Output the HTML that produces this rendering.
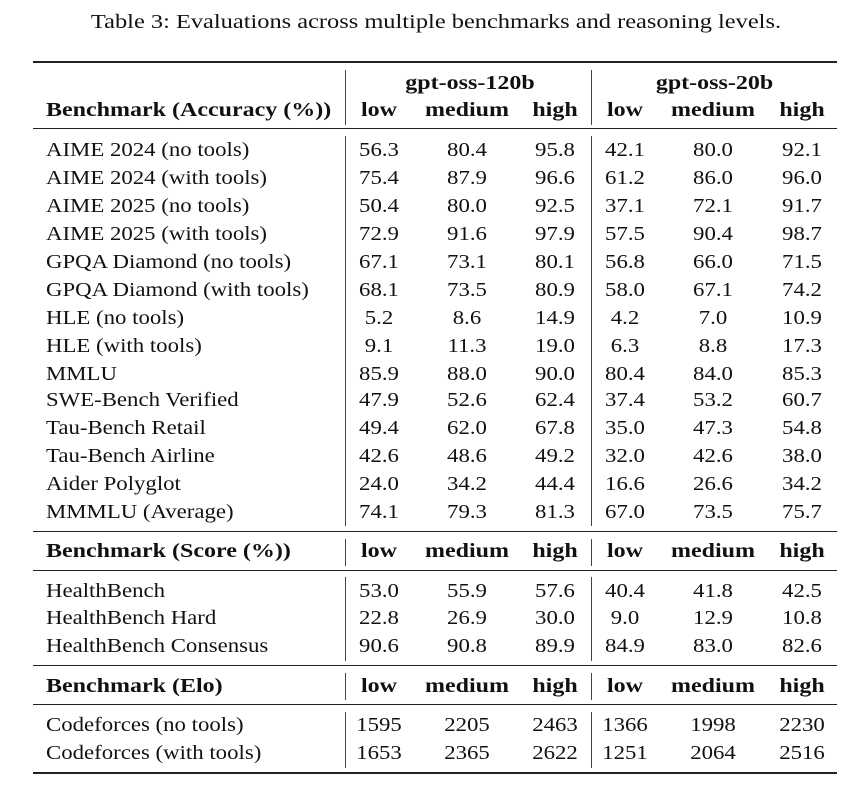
<!DOCTYPE html>
<html><head><meta charset="utf-8"><style>
body{margin:0;background:#fff;width:866px;height:796px;position:relative;overflow:hidden;font-family:"Liberation Serif",serif;color:#111}
.t{position:absolute;top:11px;left:3px;width:866px;text-align:center;font-size:20px;transform:scaleX(1.22);transform-origin:center}
.h{position:absolute;left:33px;width:804px;background:#222}
.v{position:absolute;width:1.3px;background:#444}
.r{position:absolute;left:0;width:866px;height:28px;line-height:28px;font-size:20px}
.r span{position:absolute;top:0;text-align:center;transform:scaleX(1.14);transform-origin:center}
.b{font-weight:bold}
.r.b span{transform:scaleX(1.2)}
.r span.l{left:46px;text-align:left;white-space:nowrap;transform-origin:left center}
.c1{left:349px;width:60px}.c2{left:427px;width:80px}.c3{left:525px;width:60px}
.c4{left:595px;width:60px}.c5{left:673px;width:80px}.c6{left:772px;width:60px}
.g1{left:348px;width:244px}.g2{left:592px;width:245px}
</style></head><body>
<div class="t">Table 3: Evaluations across multiple benchmarks and reasoning levels.</div>
<div class="h" style="top:61px;height:2px"></div>
<div class="h" style="top:128px;height:1.3px"></div>
<div class="h" style="top:531px;height:1.3px"></div>
<div class="h" style="top:570px;height:1.3px"></div>
<div class="h" style="top:665px;height:1.3px"></div>
<div class="h" style="top:704px;height:1.3px"></div>
<div class="h" style="top:772px;height:2px"></div>
<div class="v" style="left:345px;top:70px;height:55px"></div><div class="v" style="left:591px;top:70px;height:55px"></div>
<div class="v" style="left:345px;top:136px;height:390px"></div><div class="v" style="left:591px;top:136px;height:390px"></div>
<div class="v" style="left:345px;top:539px;height:27px"></div><div class="v" style="left:591px;top:539px;height:27px"></div>
<div class="v" style="left:345px;top:577px;height:84px"></div><div class="v" style="left:591px;top:577px;height:84px"></div>
<div class="v" style="left:345px;top:673px;height:27px"></div><div class="v" style="left:591px;top:673px;height:27px"></div>
<div class="v" style="left:345px;top:712px;height:56px"></div><div class="v" style="left:591px;top:712px;height:56px"></div>

<div class="r b" style="top:69px"><span class="g1">gpt-oss-120b</span><span class="g2">gpt-oss-20b</span></div>
<div class="r b" style="top:96px"><span class="l">Benchmark (Accuracy (%))</span><span class="c1">low</span><span class="c2">medium</span><span class="c3">high</span><span class="c4">low</span><span class="c5">medium</span><span class="c6">high</span></div>

<div class="r" style="top:136px"><span class="l">AIME 2024 (no tools)</span><span class="c1">56.3</span><span class="c2">80.4</span><span class="c3">95.8</span><span class="c4">42.1</span><span class="c5">80.0</span><span class="c6">92.1</span></div>
<div class="r" style="top:164px"><span class="l">AIME 2024 (with tools)</span><span class="c1">75.4</span><span class="c2">87.9</span><span class="c3">96.6</span><span class="c4">61.2</span><span class="c5">86.0</span><span class="c6">96.0</span></div>
<div class="r" style="top:192px"><span class="l">AIME 2025 (no tools)</span><span class="c1">50.4</span><span class="c2">80.0</span><span class="c3">92.5</span><span class="c4">37.1</span><span class="c5">72.1</span><span class="c6">91.7</span></div>
<div class="r" style="top:220px"><span class="l">AIME 2025 (with tools)</span><span class="c1">72.9</span><span class="c2">91.6</span><span class="c3">97.9</span><span class="c4">57.5</span><span class="c5">90.4</span><span class="c6">98.7</span></div>
<div class="r" style="top:248px"><span class="l">GPQA Diamond (no tools)</span><span class="c1">67.1</span><span class="c2">73.1</span><span class="c3">80.1</span><span class="c4">56.8</span><span class="c5">66.0</span><span class="c6">71.5</span></div>
<div class="r" style="top:276px"><span class="l">GPQA Diamond (with tools)</span><span class="c1">68.1</span><span class="c2">73.5</span><span class="c3">80.9</span><span class="c4">58.0</span><span class="c5">67.1</span><span class="c6">74.2</span></div>
<div class="r" style="top:304px"><span class="l">HLE (no tools)</span><span class="c1">5.2</span><span class="c2">8.6</span><span class="c3">14.9</span><span class="c4">4.2</span><span class="c5">7.0</span><span class="c6">10.9</span></div>
<div class="r" style="top:332px"><span class="l">HLE (with tools)</span><span class="c1">9.1</span><span class="c2">11.3</span><span class="c3">19.0</span><span class="c4">6.3</span><span class="c5">8.8</span><span class="c6">17.3</span></div>
<div class="r" style="top:360px"><span class="l">MMLU</span><span class="c1">85.9</span><span class="c2">88.0</span><span class="c3">90.0</span><span class="c4">80.4</span><span class="c5">84.0</span><span class="c6">85.3</span></div>
<div class="r" style="top:386px"><span class="l">SWE-Bench Verified</span><span class="c1">47.9</span><span class="c2">52.6</span><span class="c3">62.4</span><span class="c4">37.4</span><span class="c5">53.2</span><span class="c6">60.7</span></div>
<div class="r" style="top:414px"><span class="l">Tau-Bench Retail</span><span class="c1">49.4</span><span class="c2">62.0</span><span class="c3">67.8</span><span class="c4">35.0</span><span class="c5">47.3</span><span class="c6">54.8</span></div>
<div class="r" style="top:442px"><span class="l">Tau-Bench Airline</span><span class="c1">42.6</span><span class="c2">48.6</span><span class="c3">49.2</span><span class="c4">32.0</span><span class="c5">42.6</span><span class="c6">38.0</span></div>
<div class="r" style="top:470px"><span class="l">Aider Polyglot</span><span class="c1">24.0</span><span class="c2">34.2</span><span class="c3">44.4</span><span class="c4">16.6</span><span class="c5">26.6</span><span class="c6">34.2</span></div>
<div class="r" style="top:498px"><span class="l">MMMLU (Average)</span><span class="c1">74.1</span><span class="c2">79.3</span><span class="c3">81.3</span><span class="c4">67.0</span><span class="c5">73.5</span><span class="c6">75.7</span></div>

<div class="r b" style="top:537px"><span class="l">Benchmark (Score (%))</span><span class="c1">low</span><span class="c2">medium</span><span class="c3">high</span><span class="c4">low</span><span class="c5">medium</span><span class="c6">high</span></div>
<div class="r" style="top:577px"><span class="l">HealthBench</span><span class="c1">53.0</span><span class="c2">55.9</span><span class="c3">57.6</span><span class="c4">40.4</span><span class="c5">41.8</span><span class="c6">42.5</span></div>
<div class="r" style="top:604px"><span class="l">HealthBench Hard</span><span class="c1">22.8</span><span class="c2">26.9</span><span class="c3">30.0</span><span class="c4">9.0</span><span class="c5">12.9</span><span class="c6">10.8</span></div>
<div class="r" style="top:632px"><span class="l">HealthBench Consensus</span><span class="c1">90.6</span><span class="c2">90.8</span><span class="c3">89.9</span><span class="c4">84.9</span><span class="c5">83.0</span><span class="c6">82.6</span></div>

<div class="r b" style="top:672px"><span class="l">Benchmark (Elo)</span><span class="c1">low</span><span class="c2">medium</span><span class="c3">high</span><span class="c4">low</span><span class="c5">medium</span><span class="c6">high</span></div>
<div class="r" style="top:711px"><span class="l">Codeforces (no tools)</span><span class="c1">1595</span><span class="c2">2205</span><span class="c3">2463</span><span class="c4">1366</span><span class="c5">1998</span><span class="c6">2230</span></div>
<div class="r" style="top:739px"><span class="l">Codeforces (with tools)</span><span class="c1">1653</span><span class="c2">2365</span><span class="c3">2622</span><span class="c4">1251</span><span class="c5">2064</span><span class="c6">2516</span></div>
</body></html>
